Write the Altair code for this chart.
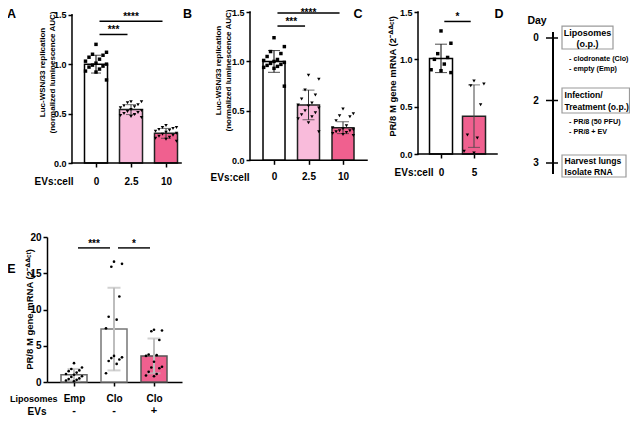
import altair as alt
import pandas as pd

FONT = "Liberation Sans"
PINK_LIGHT = "#F9BBDB"
PINK = "#F0608F"

# ---------------- data ----------------
# Panel A
A_CATS = ["0", "2.5", "10"]
A_MEAN = [1.00, 0.54, 0.30]
A_SD = [0.09, 0.05, 0.05]
A_PTS_0 = [1.20, 1.12, 1.10, 1.09, 1.07, 1.05, 1.03, 1.01, 1.00, 0.99, 0.98, 0.97, 0.95, 0.93, 0.92, 0.84]
A_PTS_25 = [0.62, 0.62, 0.61, 0.59, 0.58, 0.57, 0.56, 0.54, 0.53, 0.52, 0.51, 0.50, 0.49, 0.48, 0.47, 0.46]
A_PTS_10 = [0.38, 0.36, 0.36, 0.35, 0.34, 0.33, 0.32, 0.31, 0.30, 0.29, 0.28, 0.27, 0.26, 0.25, 0.24, 0.22]
A_SIG_FROM = [0, 0]
A_SIG_TO = [1, 2]
A_SIG_Y = [1.30, 1.435]
A_SIG_TXT = ["***", "****"]

# Panel B
B_CATS = ["0", "2.5", "10"]
B_MEAN = [1.00, 0.56, 0.33]
B_SD = [0.11, 0.15, 0.06]
B_PTS_0 = [1.24, 1.15, 1.10, 1.08, 1.05, 1.02, 1.01, 1.00, 0.99, 0.98, 0.97, 0.96, 0.95, 0.94, 0.93, 0.75]
B_PTS_25 = [0.86, 0.82, 0.71, 0.66, 0.62, 0.58, 0.56, 0.55, 0.53, 0.50, 0.48, 0.46, 0.44, 0.42, 0.38, 0.29]
B_PTS_10 = [0.52, 0.47, 0.45, 0.44, 0.40, 0.35, 0.33, 0.32, 0.31, 0.30, 0.30, 0.29, 0.28, 0.27, 0.26, 0.25]
B_SIG_FROM = [0, 0]
B_SIG_TO = [1, 2]
B_SIG_Y = [1.358, 1.49]
B_SIG_TXT = ["***", "****"]

# Panel C
C_CATS = ["0", "5"]
C_MEAN = [1.01, 0.40]
C_SD = [0.15, 0.33]
C_PTS_0 = [1.30, 1.17, 1.06, 1.02, 1.00, 0.95, 0.89, 0.88, 0.86]
C_PTS_5 = [0.77, 0.74, 0.72, 0.52, 0.20, 0.17, 0.03, 0.01]
C_SIG_FROM = [0]
C_SIG_TO = [1]
C_SIG_Y = [1.40]
C_SIG_TXT = ["*"]

# Panel D (timeline)
D_DAYS = ["0", "2", "3"]
D_BOX1 = ["Liposomes", "(o.p.)"]
D_BOX2 = ["Infection/", "Treatment (o.p.)"]
D_BOX3 = ["Harvest lungs", "Isolate  RNA"]
D_NOTE1 = ["- clodronate (Clo)", "- empty (Emp)"]
D_NOTE2 = ["- PR/8 (50 PFU)", "- PR/8 + EV"]

# Panel E
E_LIPO = ["Emp", "Clo", "Clo"]
E_EVS = ["-", "-", "+"]
E_MEAN = [1.0, 7.3, 3.6]
E_SD = [0.8, 5.7, 2.4]
E_PTS_EMP = [2.6, 2.0, 1.8, 1.6, 1.5, 1.3, 1.1, 1.0, 0.8, 0.7, 0.5, 0.4, 0.3, 0.2, 0.1]
E_PTS_CLO = [16.6, 16.3, 15.9, 11.8, 9.0, 8.6, 7.4, 3.6, 3.4, 3.3, 3.1, 2.9, 2.5, 1.2]
E_PTS_CLOEV = [7.2, 7.1, 7.0, 5.8, 3.8, 3.7, 3.6, 2.8, 2.1, 2.0, 1.9, 1.4, 1.1, 0.9, 0.8]
E_SIG_FROM = [0, 1]
E_SIG_TO = [1, 2]
E_SIG_Y = [18.5, 18.5]
E_SIG_TXT = ["***", "*"]


def txt_layer(text, px, py, size=12.5):
    return alt.Chart(alt.Data(values=[{"t": text}])).mark_text(
        font=FONT, fontWeight="bold", fontSize=size, align="center",
        baseline="alphabetic", color="black"
    ).encode(x=alt.value(px), y=alt.value(py), text="t:N")


def bar_panel(c):
    n = len(c["cats"])
    xs = alt.Scale(domain=c["xdom"], nice=False, zero=False, padding=0)
    ys = alt.Scale(domain=c["ydom"], nice=False, zero=False, padding=0)
    label_expr = "[" + ",".join("'%s'" % s for s in c["cats"]) + "][datum.value]"
    x_axis = alt.Axis(
        values=list(range(n)), labelExpr=label_expr, domain=c["axis_domain"],
        domainColor="black", domainWidth=1.5,
        ticks=True, tickSize=4, tickColor="black", tickWidth=1.5,
        labelFont=FONT, labelFontWeight="bold", labelFontSize=10, labelColor="black",
        labelPadding=c["label_pad"], labelFlush=False, labelOverlap=False,
        offset=c["x_offset"], grid=False,
        title=c["xtitle"], titleX=c["xtitle_x"], titleY=c["xtitle_y"],
        titleAlign="right", titleBaseline="middle", titleAngle=0,
        titleFont=FONT, titleFontWeight="bold", titleFontSize=c.get("xtitle_size", 10),
        titleColor="black",
    )
    y_axis = alt.Axis(
        values=c["yvals"], format=c["yfmt"], domain=c["axis_domain"],
        domainColor="black", domainWidth=1.5,
        ticks=True, tickSize=4, tickColor="black", tickWidth=1.5,
        labelFont=FONT, labelFontWeight="bold", labelFontSize=c["ylab_size"], labelColor="black",
        labelPadding=2, labelFlush=False, labelOverlap=False,
        offset=c["y_offset"], grid=False,
        title=c["ytitle"], titleX=c["ytitle_x"], titleY=c["ytitle_y"],
        titleAngle=270, titleAlign="center", titleBaseline="middle",
        titleFont=FONT, titleFontWeight="bold", titleFontSize=c["ytitle_size"],
        titleColor="black", titleLineHeight=c["ytitle_size"] + 2,
    )

    def X(f):
        return alt.X(f, scale=xs, axis=x_axis)

    def Y(f):
        return alt.Y(f, scale=ys, axis=y_axis)

    bars = pd.DataFrame({
        "i": list(range(n)),
        "mean": c["mean"],
        "base": [0.0] * n,
        "lo": [m - s for m, s in zip(c["mean"], c["sd"])],
        "hi": [m + s for m, s in zip(c["mean"], c["sd"])],
        "fill": c["fill"],
        "stroke": c["stroke"],
        "err": c["err"],
    })
    rows = []
    for i, vals in enumerate(c["pts"]):
        for k, v in enumerate(vals):
            rows.append({"i": i, "k": k, "v": v, "shape": c["shape"][i]})
    pts = pd.DataFrame(rows)
    sig = pd.DataFrame({
        "x1": [a + 0.1 for a in c["sig_from"]],
        "x2": [b - 0.1 for b in c["sig_to"]],
        "xm": [(a + b) / 2 for a, b in zip(c["sig_from"], c["sig_to"])],
        "y": c["sig_y"],
        "t": c["sig_txt"],
    })

    layers = []
    layers.append(
        alt.Chart(bars).mark_bar(size=c["barw"], strokeWidth=1.5).encode(
            x=X("i:Q"), y=Y("mean:Q"), y2="base:Q",
            fill=alt.Fill("fill:N", scale=None),
            stroke=alt.Stroke("stroke:N", scale=None),
        )
    )
    if c["frame"] is not None:
        fr = pd.DataFrame({"x1": [c["frame"][0]], "x2": [c["frame"][1]],
                           "y0": [0.0], "yt": [c["yvals"][-1]]})
        layers.append(alt.Chart(fr).mark_rule(color="black", strokeWidth=1.5, strokeCap="square").encode(
            x=X("x1:Q"), y=Y("y0:Q"), y2="yt:Q"))
        layers.append(alt.Chart(fr).mark_rule(color="black", strokeWidth=1.5, strokeCap="square").encode(
            x=X("x1:Q"), x2="x2:Q", y=Y("y0:Q")))
    layers.append(
        alt.Chart(bars).mark_rule(strokeWidth=c["errw"]).encode(
            x=X("i:Q"), y=Y("lo:Q"), y2="hi:Q",
            color=alt.Color("err:N", scale=None),
        )
    )
    for fld in ["lo", "hi"]:
        layers.append(
            alt.Chart(bars).mark_tick(orient="horizontal", size=c["capw"], thickness=c["errw"]).encode(
                x=X("i:Q"), y=Y(fld + ":Q"),
                color=alt.Color("err:N", scale=None),
            )
        )
    layers.append(
        alt.Chart(pts).transform_calculate(
            xj="datum.i + ((datum.k*3+3)%%7-3)/3*%s" % c["spread"]
        ).mark_point(filled=True, size=c["psize"], color="black", opacity=1).encode(
            x=X("xj:Q"), y=Y("v:Q"),
            shape=alt.Shape("shape:N", scale=None),
        )
    )
    layers.append(
        alt.Chart(sig).mark_rule(color=c["sig_color"], strokeWidth=c["sig_w"]).encode(
            x=X("x1:Q"), x2="x2:Q", y=Y("y:Q"),
        )
    )
    for j in range(len(sig)):
        layers.append(
            alt.Chart(sig.iloc[[j]]).mark_text(font=FONT, fontWeight="bold", fontSize=10,
                                               baseline="alphabetic", dy=c["sig_dy"][j],
                                               color="black").encode(
                x=X("xm:Q"), y=Y("y:Q"), text="t:N",
            )
        )
    if c.get("row2") is not None:
        r2 = pd.DataFrame({"i": list(range(n)), "t": c["row2"]})
        layers.append(
            alt.Chart(r2).mark_text(font=FONT, fontWeight="bold", fontSize=11,
                                    baseline="middle", color="black").encode(
                x=X("i:Q"), y=alt.value(c["h"] + 29), text="t:N",
            )
        )
        layers.append(txt_layer(c["row2_title"], -10, c["h"] + 32.5, size=10))
    layers.append(txt_layer(c["letter"], c["letter_x"], c["letter_y"]))
    return alt.layer(*layers).properties(width=c["w"], height=c["h"])


TOP_H = 152
LUC_TITLE = ["Luc-WSN/33 replication", "(normalized luminescence AUC)"]
PR8_TITLE = "PR/8 M gene mRNA (2\u207b\u141e\u141e\u1d9c\u1d57)"

panel_a = bar_panel(dict(
    cats=A_CATS, mean=A_MEAN, sd=A_SD, pts=[A_PTS_0, A_PTS_25, A_PTS_10],
    fill=["white", PINK_LIGHT, PINK], stroke=["black", "#222222", "#222222"],
    err=["black", "#333333", "#333333"], shape=["square", "triangle-down", "triangle-down"],
    psize=12, barw=23, capw=10, errw=1, spread=0.3,
    xdom=[-1.4, 4.4], ydom=[-0.0101, 1.5273], w=203, h=TOP_H,
    yvals=[0, 0.5, 1.0, 1.5], yfmt=".1f", ylab_size=9,
    ytitle=LUC_TITLE, ytitle_x=-30, ytitle_y=60, ytitle_size=8,
    y_offset=-25, x_offset=-1, axis_domain=False, frame=[-0.686, 2.43],
    xtitle="EVs:cell", xtitle_x=26, xtitle_y=18, label_pad=9,
    sig_from=A_SIG_FROM, sig_to=A_SIG_TO, sig_y=A_SIG_Y, sig_txt=A_SIG_TXT,
    sig_dy=[-1, -1], sig_color="black", sig_w=1.5,
    letter="A", letter_x=-35.5, letter_y=5.7,
))

panel_b = bar_panel(dict(
    cats=B_CATS, mean=B_MEAN, sd=B_SD, pts=[B_PTS_0, B_PTS_25, B_PTS_10],
    fill=["white", PINK_LIGHT, PINK], stroke=["black", "#222222", "#222222"],
    err=["black", "#333333", "#333333"], shape=["square", "triangle-down", "triangle-down"],
    psize=12, barw=22, capw=12, errw=1, spread=0.3,
    xdom=[-0.696, 4.174], ydom=[-0.0374, 1.5], w=168, h=TOP_H,
    yvals=[0, 0.5, 1.0, 1.5], yfmt=".1f", ylab_size=9,
    ytitle=LUC_TITLE, ytitle_x=-32, ytitle_y=58, ytitle_size=8,
    y_offset=0, x_offset=-3.7, axis_domain=False, frame=[-0.696, 2.696],
    xtitle="EVs:cell", xtitle_x=-1, xtitle_y=16.7, label_pad=7.5,
    sig_from=B_SIG_FROM, sig_to=B_SIG_TO, sig_y=B_SIG_Y, sig_txt=B_SIG_TXT,
    sig_dy=[-1, 2.7], sig_color="black", sig_w=1.5,
    letter="B", letter_x=-62.5, letter_y=5.5,
))

panel_c = bar_panel(dict(
    cats=C_CATS, mean=C_MEAN, sd=C_SD, pts=[C_PTS_0, C_PTS_5],
    fill=["white", PINK], stroke=["black", "#222222"],
    err=["black", "#444444"], shape=["square", "triangle-down"],
    psize=12, barw=23, capw=12, errw=1, spread=0.3,
    xdom=[-0.697, 1.939], ydom=[-0.1056, 1.5], w=87, h=TOP_H,
    yvals=[0, 0.5, 1.0, 1.5], yfmt=".1f", ylab_size=9,
    ytitle=PR8_TITLE, ytitle_x=-26, ytitle_y=64, ytitle_size=9.5,
    y_offset=0, x_offset=-10, axis_domain=False, frame=[-0.697, 1.697],
    xtitle="EVs:cell", xtitle_x=15, xtitle_y=18.5, label_pad=9.5,
    sig_from=C_SIG_FROM, sig_to=C_SIG_TO, sig_y=C_SIG_Y, sig_txt=C_SIG_TXT,
    sig_dy=[-1], sig_color="black", sig_w=1.5,
    letter="C", letter_x=-60, letter_y=5.8,
))

panel_e = bar_panel(dict(
    cats=E_LIPO, mean=E_MEAN, sd=E_SD, pts=[E_PTS_EMP, E_PTS_CLO, E_PTS_CLOEV],
    fill=["white", "white", PINK], stroke=["#666666", "#777777", "#555555"],
    err=["#BDBDBD", "#BDBDBD", "#BDBDBD"], shape=["circle", "circle", "circle"],
    psize=7, barw=26, capw=13, errw=2, spread=0.2,
    xdom=[-0.675, 2.7], ydom=[0, 20], w=135, h=145,
    yvals=[0, 5, 10, 15, 20], yfmt="d", ylab_size=10,
    ytitle=PR8_TITLE, ytitle_x=-18, ytitle_y=72, ytitle_size=9.5,
    y_offset=0, x_offset=0, axis_domain=True, frame=None,
    xtitle="Liposomes", xtitle_x=10, xtitle_y=16, xtitle_size=9, label_pad=7,
    sig_from=E_SIG_FROM, sig_to=E_SIG_TO, sig_y=E_SIG_Y, sig_txt=E_SIG_TXT,
    sig_dy=[-1, -1], sig_color="#333333", sig_w=1.8,
    row2=E_EVS, row2_title="EVs",
    letter="E", letter_x=-35.5, letter_y=36,
))

# ---- panel D ----
dxs = alt.Scale(domain=[-48, 77], nice=False, zero=False, padding=0)
dys = alt.Scale(domain=[-0.416, 2.016], nice=False, zero=False, reverse=True, padding=0)

d_line = pd.DataFrame({"x": [0], "y1": [-0.096], "y2": [2.176]})
d_ticks = pd.DataFrame({"x1": [-7] * 3, "x2": [5] * 3, "y": [0, 1, 2], "t": D_DAYS})
d_boxes = pd.DataFrame({"x1": [9, 9, 9], "x2": [60, 76.5, 73],
                        "y1": [-0.19, 0.80, 1.872], "y2": [0.176, 1.20, 2.224]})
d_box_c = pd.DataFrame({"x": [34.5, 34.5], "y": [-0.08, 0.096], "t": D_BOX1})
d_box_l = pd.DataFrame({"x": [11.5, 11.5, 11.5, 11.5], "y": [0.912, 1.104, 1.968, 2.144],
                        "t": D_BOX2 + D_BOX3})
d_notes = pd.DataFrame({"x": [16] * 4, "y": [0.336, 0.496, 1.344, 1.504],
                        "t": D_NOTE1 + D_NOTE2})
d_head = pd.DataFrame({"x": [-16], "y": [-0.27], "t": ["Day"]})


def dx(f):
    return alt.X(f, scale=dxs, axis=None)


def dy(f):
    return alt.Y(f, scale=dys, axis=None)


panel_d = alt.layer(
    alt.Chart(d_boxes).mark_rect(fill="white", stroke="#9A9A9A", strokeWidth=1.2).encode(
        x=dx("x1:Q"), x2="x2:Q", y=dy("y1:Q"), y2="y2:Q"),
    alt.Chart(d_line).mark_rule(color="black", strokeWidth=2).encode(
        x=dx("x:Q"), y=dy("y1:Q"), y2="y2:Q"),
    alt.Chart(d_ticks).mark_rule(color="black", strokeWidth=1.5).encode(
        x=dx("x1:Q"), x2="x2:Q", y=dy("y:Q")),
    alt.Chart(d_ticks).mark_text(font=FONT, fontWeight="bold", fontSize=10, align="center",
                                 baseline="middle", dx=-10, color="black").encode(
        x=dx("x1:Q"), y=dy("y:Q"), text="t:N"),
    alt.Chart(d_head).mark_text(font=FONT, fontWeight="bold", fontSize=10.5, align="center",
                                baseline="middle", color="black").encode(
        x=dx("x:Q"), y=dy("y:Q"), text="t:N"),
    alt.Chart(d_box_c).mark_text(font=FONT, fontWeight="bold", fontSize=9, align="center",
                                 baseline="middle", color="black").encode(
        x=dx("x:Q"), y=dy("y:Q"), text="t:N"),
    alt.Chart(d_box_l).mark_text(font=FONT, fontWeight="bold", fontSize=8.6, align="left",
                                 baseline="middle", color="black").encode(
        x=dx("x:Q"), y=dy("y:Q"), text="t:N"),
    alt.Chart(d_notes).mark_text(font=FONT, fontWeight="bold", fontSize=7.2, align="left",
                                 baseline="middle", color="black").encode(
        x=dx("x:Q"), y=dy("y:Q"), text="t:N"),
    txt_layer("D", -6, 5.7),
).properties(width=125, height=TOP_H)

chart = alt.concat(
    panel_a, panel_b, panel_c, panel_d, panel_e,
    columns=4, spacing={"row": 73, "column": 0}, bounds="flush", align="each",
).properties(
    autosize=alt.AutoSizeParams(type="none"),
    padding={"left": 39, "top": 4, "right": 583, "bottom": 405},
).configure_view(stroke=None)

chart.save("out.html", embed_options={"renderer": "svg", "actions": False})
